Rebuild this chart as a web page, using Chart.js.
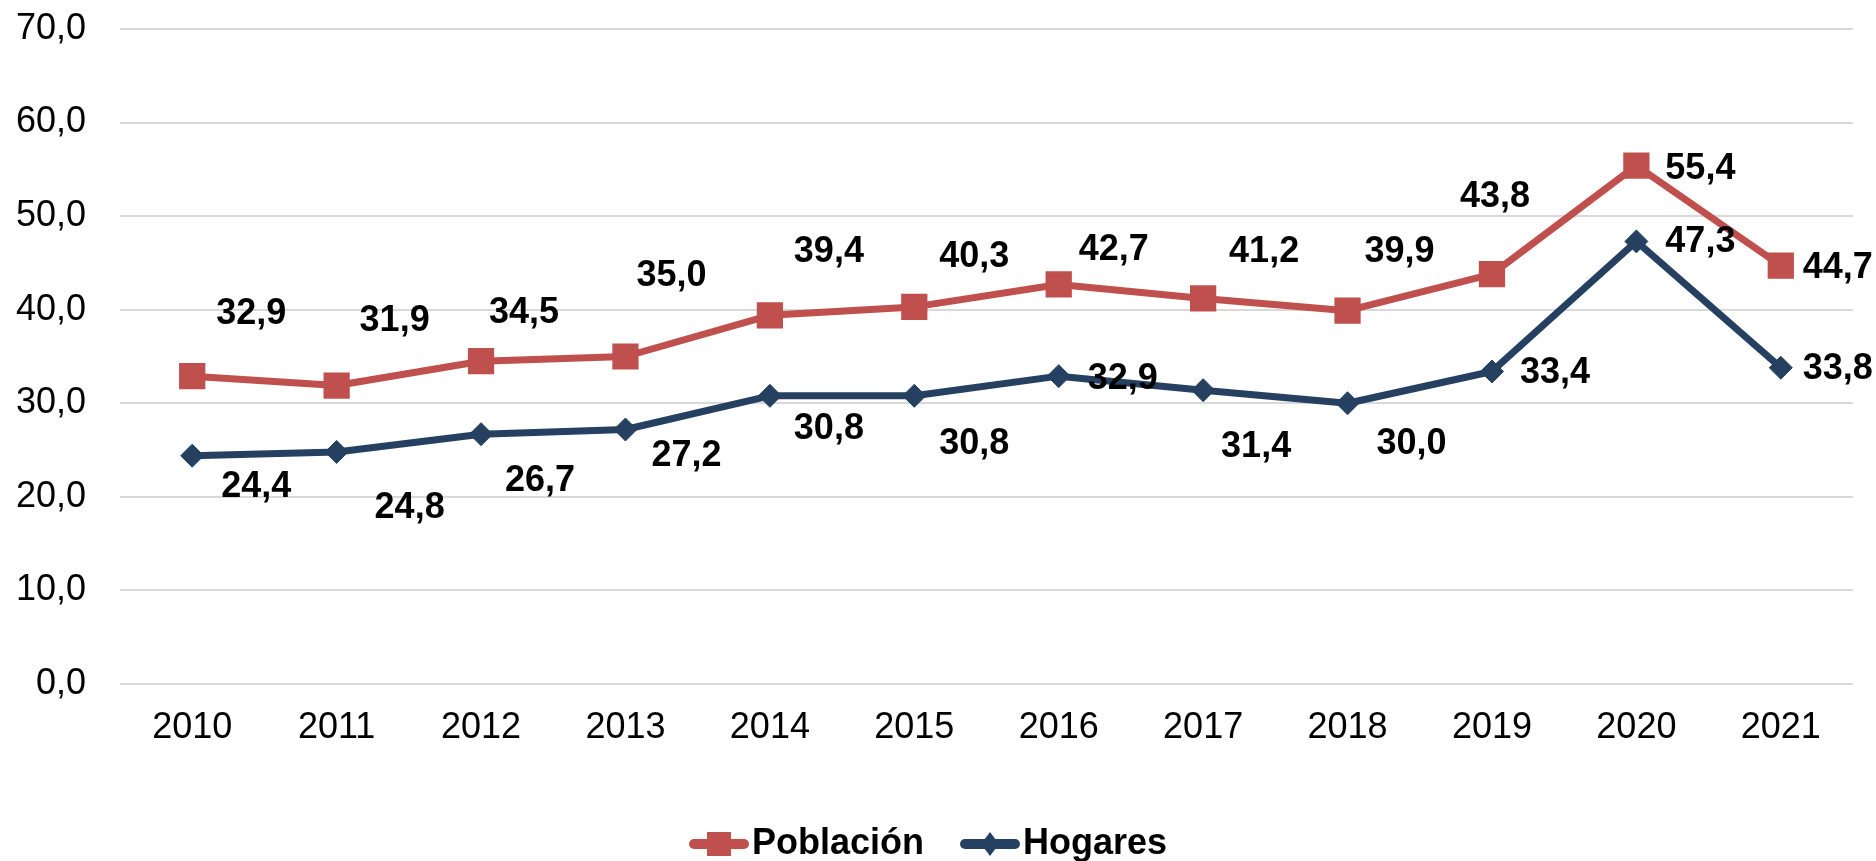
<!DOCTYPE html>
<html lang="es">
<head>
<meta charset="utf-8">
<title>Población y Hogares 2010-2021</title>
<script src="https://cdn.jsdelivr.net/npm/chart.js@4.4.1/dist/chart.umd.min.js"></script>
<style>
    html, body { margin: 0; padding: 0; background: #ffffff; }
    #chart { display: block; }
</style>
</head>
<body>
<canvas id="chart" width="1876" height="861"></canvas>
<script>
// Data
const years = ['2010', '2011', '2012', '2013', '2014', '2015', '2016', '2017', '2018', '2019', '2020', '2021'];
const poblacion = [32.9, 31.9, 34.5, 35.0, 39.4, 40.3, 42.7, 41.2, 39.9, 43.8, 55.4, 44.7];
const hogares = [24.4, 24.8, 26.7, 27.2, 30.8, 30.8, 32.9, 31.4, 30.0, 33.4, 47.3, 33.8];
const seriesNames = ['Población', 'Hogares'];
const yMin = 0;
const yMax = 70;
const yStep = 10;

// Where each value label sits relative to its point (px)
const poblacionLabelShift = [[59, -62], [58, -64], [43, -48], [46, -80], [59, -63], [60, -50], [55, -34], [61, -46], [52, -59], [3, -77], [64, 3], [57, 2]];
const hogaresLabelShift = [[64, 31], [73, 56], [59, 47], [61, 27], [59, 33], [60, 48], [64, 3], [53, 57], [64, 41], [63, 2], [64, 1], [57, 1]];

const FONT = "'Liberation Sans', Arial, sans-serif";
const RED = '#C0504D';
const NAVY = '#254061';
const PLOT_BOTTOM = 684;
const PAD_BOTTOM = -11;

Chart.defaults.font.family = FONT;
Chart.defaults.color = '#000000';

const fmt = (v) => v.toFixed(1).replace('.', ',');

// Legend icon: thick line with the series marker in the middle
function legendIcon(color, shape) {
    const c = document.createElement('canvas');
    c.width = 80;
    c.height = 32;
    const g = c.getContext('2d');
    const a = 19, mid = 16, cx = a + 30;
    g.strokeStyle = color;
    g.fillStyle = color;
    g.lineWidth = 10;
    g.lineCap = 'round';
    g.beginPath();
    g.moveTo(a + 5, mid);
    g.lineTo(a + 55, mid);
    g.stroke();
    g.beginPath();
    if (shape === 'rect') {
        g.rect(cx - 12, mid - 12, 24, 24);
    } else {
        g.moveTo(cx, mid - 12);
        g.lineTo(cx + 9, mid);
        g.lineTo(cx, mid + 12);
        g.lineTo(cx - 9, mid);
        g.closePath();
    }
    g.fill();
    return c;
}

const valueLabels = {
    id: 'valueLabels',
    afterDatasetsDraw(chart, args, opts) {
        const ctx = chart.ctx;
        ctx.save();
        ctx.font = `bold 36px ${FONT}`;
        ctx.fillStyle = '#000000';
        ctx.textAlign = 'center';
        ctx.textBaseline = 'middle';
        chart.data.datasets.forEach((ds, i) => {
            const meta = chart.getDatasetMeta(i);
            const shifts = opts.shifts[i];
            meta.data.forEach((pt, j) => {
                const [dx, dy] = shifts[j];
                ctx.fillText(fmt(ds.data[j]), pt.x + dx, pt.y + dy);
            });
        });
        ctx.restore();
    }
};

new Chart(document.getElementById('chart'), {
    type: 'line',
    data: {
        labels: years,
        datasets: [{
            label: seriesNames[0],
            data: poblacion,
            borderColor: RED,
            backgroundColor: RED,
            borderWidth: 7,
            borderJoinStyle: 'round',
            tension: 0,
            pointStyle: 'rect',
            pointRadius: 17.5,
            pointBorderWidth: 1.5,
            pointBackgroundColor: RED,
            pointBorderColor: RED
        }, {
            label: seriesNames[1],
            data: hogares,
            borderColor: NAVY,
            backgroundColor: NAVY,
            borderWidth: 7,
            borderJoinStyle: 'round',
            tension: 0,
            pointStyle: 'rectRot',
            pointRadius: 11.5,
            pointBorderWidth: 1,
            pointBackgroundColor: NAVY,
            pointBorderColor: NAVY
        }]
    },
    options: {
        responsive: false,
        animation: false,
        events: [],
        layout: { padding: { top: 29, right: 23, left: 0, bottom: PAD_BOTTOM } },
        plugins: {
            tooltip: { enabled: false },
            legend: {
                position: 'bottom',
                labels: {
                    usePointStyle: true,
                    pointStyleWidth: 48,
                    padding: 33,
                    color: '#000000',
                    font: { size: 36, weight: 'bold' },
                    generateLabels: (chart) => chart.data.datasets.map((ds, i) => ({
                        text: ds.label,
                        pointStyle: legendIcon(ds.borderColor, ds.pointStyle),
                        fillStyle: ds.borderColor,
                        strokeStyle: ds.borderColor,
                        lineWidth: 0,
                        hidden: false,
                        datasetIndex: i
                    }))
                }
            },
            valueLabels: { shifts: [poblacionLabelShift, hogaresLabelShift] }
        },
        scales: {
            x: {
                offset: true,
                grid: { display: false, drawTicks: false, offset: true },
                border: { display: false },
                ticks: { padding: 22, font: { size: 36 }, color: '#000000', maxRotation: 0 },
                afterFit: (scale) => {
                    scale.height = 861 - PAD_BOTTOM - scale.chart.legend.height - PLOT_BOTTOM;
                }
            },
            y: {
                min: yMin,
                max: yMax,
                grid: { color: '#D9D9D9', lineWidth: 2, drawTicks: false },
                border: { display: false },
                ticks: {
                    stepSize: yStep,
                    padding: 34,
                    font: { size: 36 },
                    color: '#000000',
                    callback: (v) => fmt(v)
                },
                afterFit: (scale) => {
                    scale.width = 120;
                    // the tick padding is meant for the horizontal gap only
                    scale.paddingTop = 0;
                    scale.paddingBottom = 0;
                }
            }
        }
    },
    plugins: [valueLabels]
});
</script>
</body>
</html>
